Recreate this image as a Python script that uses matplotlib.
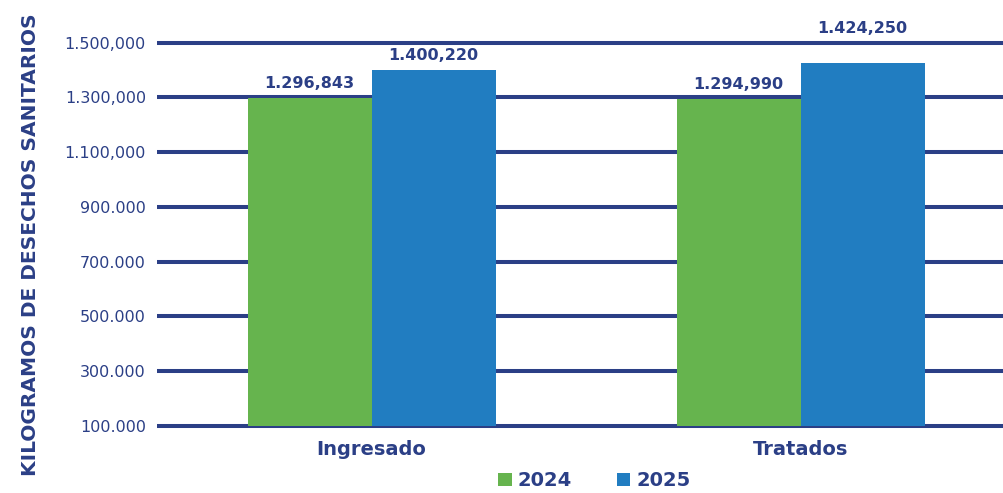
import matplotlib.pyplot as plt
import numpy as np

categories = ['Ingresado', 'Tratados']
kg_2024 = np.array([1296843, 1294990])
kg_2025 = np.array([1400220, 1424250])
labels_2024 = ['1.296,843', '1.294,990']
labels_2025 = ['1.400,220', '1.424,250']
y_ticks = [100000, 300000, 500000, 700000, 900000, 1100000, 1300000, 1500000]
y_tick_labels = ['100.000', '300.000', '500.000', '700.000', '900.000',
                 '1.100,000', '1.300,000', '1.500,000']

navy = '#2b3f86'
green = '#66b44e'
blue = '#217dc1'

plt.rcParams['font.family'] = ['DejaVu Sans']

fig = plt.figure(figsize=(10.04, 4.93), dpi=100)
ax = fig.add_axes([0.1564, 0.1359, 0.8436, 0.8053])

x = np.arange(len(categories))
w = 0.289
base = 100000
ax.bar(x - w / 2, kg_2024 - base, w, bottom=base, color=green, label='2024', zorder=3)
ax.bar(x + w / 2, kg_2025 - base, w, bottom=base, color=blue, label='2025', zorder=3)

for y in y_ticks:
    ax.axhline(y, color=navy, lw=2.9, zorder=1, clip_on=False, solid_capstyle='butt')

offs_2024 = [5, 5]
offs_2025 = [5, 20]
for i in range(len(categories)):
    ax.annotate(labels_2024[i], (x[i] - w / 2, kg_2024[i]), xytext=(0, offs_2024[i]),
                textcoords='offset points', ha='center', va='bottom',
                fontsize=11.5, fontweight='bold', color=navy)
    ax.annotate(labels_2025[i], (x[i] + w / 2, kg_2025[i]), xytext=(0, offs_2025[i]),
                textcoords='offset points', ha='center', va='bottom',
                fontsize=11.5, fontweight='bold', color=navy)

ax.set_xlim(-0.5, 1.474)
ax.set_ylim(base, 1550000)
ax.set_yticks(y_ticks)
ax.set_yticklabels(y_tick_labels, fontsize=11.5, color=navy)
ax.set_xticks(x)
ax.set_xticklabels(categories, fontsize=14, fontweight='bold', color=navy)
ax.tick_params(length=0)
ax.tick_params(axis='y', pad=8)
ax.tick_params(axis='x', pad=10)
for s in ax.spines.values():
    s.set_visible(False)

ax.set_ylabel('KILOGRAMOS DE DESECHOS SANITARIOS', fontsize=14.5, fontweight='bold',
              color=navy)
ax.yaxis.set_label_coords(-0.138, 0.456)

leg = fig.legend(loc='lower center', bbox_to_anchor=(0.592, -0.03), ncol=2, frameon=False,
                 handlelength=0.7, handleheight=0.7, handletextpad=0.3, columnspacing=2.3,
                 prop={'size': 14, 'weight': 'bold'})
for t in leg.get_texts():
    t.set_color(navy)

fig.savefig('out.png', dpi=100)
